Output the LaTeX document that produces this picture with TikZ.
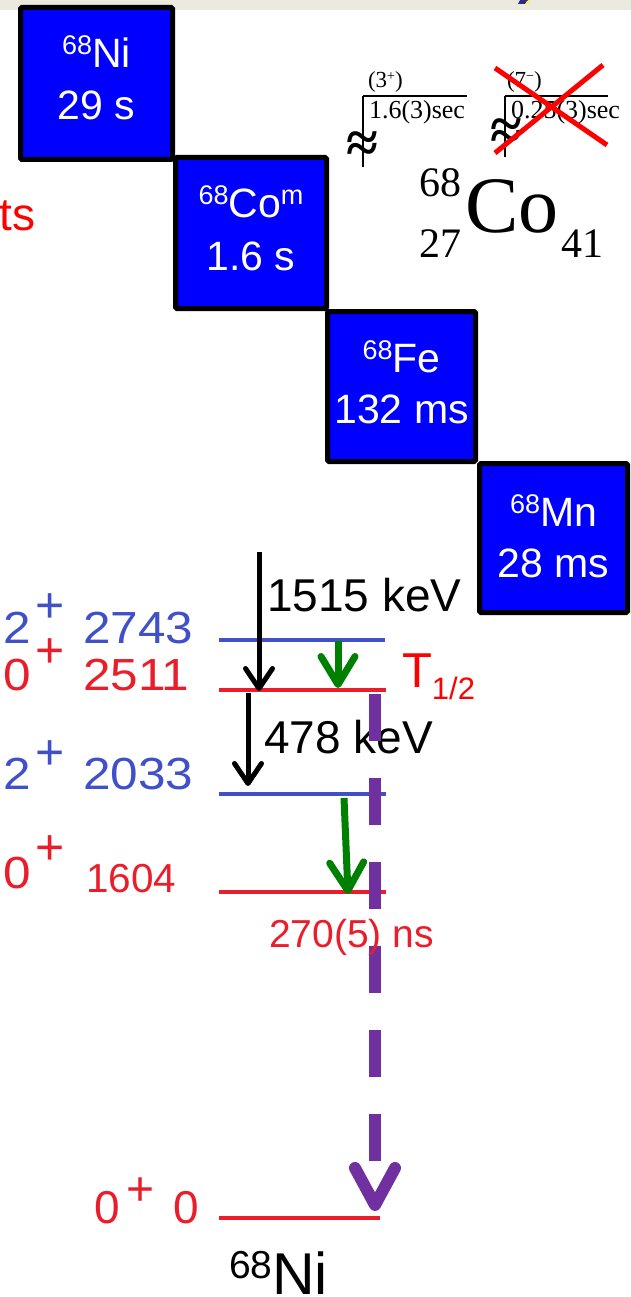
\documentclass[tikz,border=0pt]{standalone}
\usepackage{fontspec}
\setmainfont{Liberation Sans}
\newfontfamily\tms{Liberation Serif}
\usetikzlibrary{arrows.meta}
\definecolor{boxblue}{RGB}{0,0,255}
\definecolor{lvlblue}{RGB}{64,80,200}
\definecolor{lvlred}{RGB}{234,30,42}
\definecolor{pureRed}{RGB}{255,0,0}
\definecolor{grn}{RGB}{0,128,0}
\definecolor{purp}{RGB}{112,48,160}
\definecolor{barbg}{RGB}{236,233,222}
\definecolor{icondark}{RGB}{50,40,130}
\newcommand{\fsz}[1]{\fontsize{#1}{#1}\selectfont}
\newcommand{\upn}[1]{\raisebox{13pt}{\fsz{27}#1}}
\begin{document}
\begin{tikzpicture}[x=1pt,y=-1pt,
  txt/.style={inner sep=0pt,outer sep=0pt},
  boxtxt/.style={txt,anchor=base,text=white,font=\fsz{41}},
  nucbox/.style={draw=black,fill=boxblue,line width=5pt,rounded corners=1.5pt,inner sep=0pt,outer sep=0pt},
  lvlB/.style={draw=lvlblue,line width=4pt},
  lvlR/.style={draw=lvlred,line width=4pt},
  blkarrow/.style={draw=black,line width=5pt,-{Straight Barb[length=20pt,width=27pt,round]}},
  grnarrow/.style={draw=grn,line width=7pt,-{Straight Barb[length=28pt,width=34pt,round]}},
  purpdash/.style={draw=purp,line width=12pt,dash pattern=on 47pt off 37pt},
  purphead/.style={draw=purp,line width=12pt,line cap=round,line join=round},
  schline/.style={draw=black,line width=2.6pt},
  crossline/.style={draw=pureRed,line width=5pt}
]
\useasboundingbox (0,0) rectangle (631,1297);
\fill[barbg] (0,0) rectangle (631,10);
\fill[icondark] (518,4) -- (520,0) -- (528,0) -- (526,4) -- cycle;
\fill[yellow!70] (525,4) -- (527,1) -- (530,1) -- (528,4) -- cycle;

% nuclide boxes
\node[nucbox,minimum width=152pt,minimum height=152pt] (ni) at (96.5,83.5) {};
\node[nucbox,minimum width=151pt,minimum height=151pt] (co) at (251,233) {};
\node[nucbox,minimum width=148pt,minimum height=150pt] (fe) at (401.5,386.5) {};
\node[nucbox,minimum width=148pt,minimum height=149pt] (mn) at (553.5,538) {};

\node[boxtxt] (niA) at (96.5,68) {\upn{68}Ni};
\node[boxtxt] (niB) at (96.5,120) {29 s};
\node[boxtxt] (coA) at (251,218) {\upn{68}Co\upn{m}};
\node[boxtxt] (coB) at (251,270) {1.6 s};
\node[boxtxt] (feA) at (401.5,372) {\upn{68}Fe};
\node[boxtxt] (feB) at (401.5,423) {132 ms};
\node[boxtxt] (mnA) at (553.5,526) {\upn{68}Mn};
\node[boxtxt] (mnB) at (553.5,577) {28 ms};

\node[txt,anchor=base west,text=pureRed,font=\fsz{46}] (ts) at (-0.5,230) {ts};

% 68Co fragment
\draw[schline] (363,96) -- (467,96);
\draw[schline] (363,96) -- (363,167);
\node[txt,anchor=base west,font=\tms\fsz{23}] (j3) at (368,88) {(3\raisebox{7pt}{\fsz{14}+})};
\node[txt,anchor=base west,font=\tms\fsz{26}] (t3) at (369,119) {1.6(3)sec};
\node[txt,font=\tms\bfseries\fsz{58}] (wv1) at (362,147) {≈};
\draw[schline] (505,96) -- (608,96);
\draw[schline] (505,96) -- (505,157);
\node[txt,anchor=base west,font=\tms\fsz{23}] (j7) at (507,88) {(7\raisebox{7pt}{\fsz{14}−})};
\node[txt,anchor=base west,font=\tms\fsz{26}] (t7) at (511,119) {0.25(3)sec};
\node[txt,font=\tms\bfseries\fsz{58}] (wv2) at (506,134) {≈};
\coordinate (x1a) at (495,68); \coordinate (x1b) at (607,145);
\coordinate (x2a) at (603,65); \coordinate (x2b) at (495,153);
\draw[crossline] (x1a) -- (x1b);
\draw[crossline] (x2a) -- (x2b);

\node[txt,anchor=base west,font=\tms\fsz{80}] (coSym) at (465,233) {Co};
\node[txt,anchor=base east,font=\tms\fsz{42}] (coA68) at (461,197) {68};
\node[txt,anchor=base east,font=\tms\fsz{42}] (coZ) at (461,257) {27};
\node[txt,anchor=base west,font=\tms\fsz{42}] (coN) at (561,257) {41};

% levels
\coordinate (a1) at (219,640); \coordinate (a2) at (385,640);
\coordinate (b1) at (219,690); \coordinate (b2) at (386,690);
\coordinate (c1) at (219,794); \coordinate (c2) at (386,794);
\coordinate (d1) at (219,892); \coordinate (d2) at (386,892);
\coordinate (e1) at (219,1218); \coordinate (e2) at (380,1218);
\draw[lvlB] (a1) -- (a2);
\draw[lvlR] (b1) -- (b2);
\draw[lvlB] (c1) -- (c2);
\draw[lvlR] (d1) -- (d2);
\draw[lvlR] (e1) -- (e2);

% level labels
\node[txt,anchor=base west,text=lvlblue,font=\fsz{45}] (s1) at (3,643) {\scalebox{1.1}[1]{2}};
\node[txt,text=lvlblue,font=\fsz{50}] (p1) at (50,608) {+};
\node[txt,anchor=base west,text=lvlblue,font=\fsz{45}] (en1) at (83,643) {\scalebox{1.1}[1]{2743}};
\node[txt,anchor=base west,text=lvlred,font=\fsz{45}] (s2) at (3,690) {\scalebox{1.1}[1]{0}};
\node[txt,text=lvlred,font=\fsz{50}] (p2) at (50,653) {+};
\node[txt,anchor=base west,text=lvlred,font=\fsz{45}] (en2) at (83,690) {\scalebox{1.1}[1]{2511}};
\node[txt,anchor=base west,text=lvlblue,font=\fsz{45}] (s3) at (3,789) {\scalebox{1.1}[1]{2}};
\node[txt,text=lvlblue,font=\fsz{50}] (p3) at (50,755) {+};
\node[txt,anchor=base west,text=lvlblue,font=\fsz{45}] (en3) at (83,789) {\scalebox{1.1}[1]{2033}};
\node[txt,anchor=base west,text=lvlred,font=\fsz{45}] (s4) at (3,888) {\scalebox{1.1}[1]{0}};
\node[txt,text=lvlred,font=\fsz{50}] (p4) at (50,850) {+};
\node[txt,anchor=base west,text=lvlred,font=\fsz{40.5}] (en4) at (86,892) {1604};
\node[txt,anchor=base west,text=lvlred,font=\fsz{46}] (s5) at (94,1223) {0};
\node[txt,text=lvlred,font=\fsz{48}] (p5) at (141,1192) {+};
\node[txt,anchor=base west,text=lvlred,font=\fsz{46}] (en5) at (173,1223) {0};

% transitions
\coordinate (k1s) at (259,552); \coordinate (k1e) at (259,691);
\coordinate (k2s) at (248,693); \coordinate (k2e) at (248,786);
\draw[blkarrow] (k1s) -- (k1e);
\draw[blkarrow] (k2s) -- (k2e);
\node[txt,anchor=base west,font=\fsz{46}] (e1515) at (267,611) {1515 keV};
\node[txt,anchor=base west,font=\fsz{46}] (e478) at (264,753) {478 keV};

\coordinate (g1s) at (338,641); \coordinate (g1e) at (338,688);
\coordinate (g2s) at (344,798); \coordinate (g2e) at (348,894);
\draw[grnarrow] (g1s) -- (g1e);
\draw[grnarrow] (g2s) -- (g2e);

\coordinate (ps) at (375,694); \coordinate (pe) at (375,1162);
\draw[purpdash] (ps) -- (pe);
\coordinate (pha) at (355,1168); \coordinate (pht) at (375,1205); \coordinate (phb) at (395,1168);
\draw[purphead] (pha) -- (pht) -- (phb);

\node[txt,anchor=base west,text=pureRed,font=\fsz{49}] (thalf) at (402,687) {T\raisebox{-12pt}{\fsz{31}1/2}};
\node[txt,anchor=base west,text=lvlred,font=\fsz{39}] (life) at (269,947) {270(5) ns};

\node[txt,anchor=base west,font=\fsz{59}] (ni68) at (229,1294) {\raisebox{16pt}{\fsz{39}68}Ni};
\end{tikzpicture}
\end{document}
